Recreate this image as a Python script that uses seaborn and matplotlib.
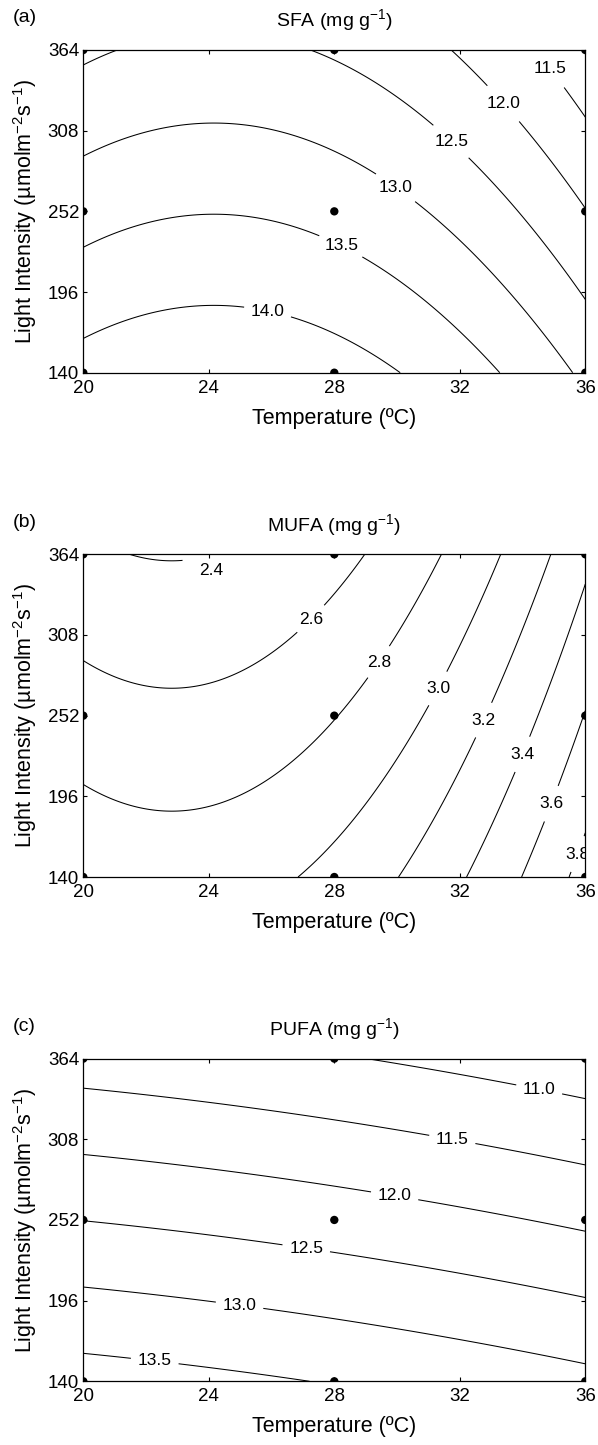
import numpy as np
import matplotlib
matplotlib.use("Agg")
import matplotlib.pyplot as plt
import seaborn as sns
import pandas as pd

sns.set_theme(style="ticks")
plt.rcParams["font.family"] = ["Liberation Sans", "DejaVu Sans"]
plt.rcParams["mathtext.fontset"] = "custom"
plt.rcParams["mathtext.rm"] = "Liberation Sans"
plt.rcParams["mathtext.it"] = "Liberation Sans:italic"
plt.rcParams["mathtext.bf"] = "Liberation Sans:bold"
plt.rcParams["text.color"] = "black"
plt.rcParams["axes.labelcolor"] = "black"
plt.rcParams["axes.titlecolor"] = "black"

# ---------------- data ----------------
temperature_ticks = [20, 24, 28, 32, 36]
light_ticks = [140, 196, 252, 308, 364]

# design points of the experiment (3 x 3 factorial)
design_temperature = [20, 28, 36, 20, 28, 36, 20, 28, 36]
design_light = [140, 140, 140, 252, 252, 252, 364, 364, 364]

# quadratic response-surface coefficients in coded units
# order: [b0, bT, bL, bTT, bLL, bTL]
sfa_coef = [13.33, -0.643, -0.885, -0.67, 0.0, 0.0]
mufa_coef = [2.793, 0.46, -0.26, 0.355, 0.006, 0.0]
pufa_coef = [12.255, -0.2895, -1.217, -0.0505, 0.0, 0.0]

sfa_levels = [11.5, 12.0, 12.5, 13.0, 13.5, 14.0]
mufa_levels = [2.4, 2.6, 2.8, 3.0, 3.2, 3.4, 3.6, 3.8]
pufa_levels = [11.0, 11.5, 12.0, 12.5, 13.0, 13.5]

# approximate contour-label positions (temperature, light)
sfa_label_pos = [(34.76, 349), (33.5, 329), (31.7, 300), (30.2, 276), (28.35, 234), (25.9, 185)]
mufa_label_pos = [(23.8, 358), (27.4, 316), (29.57, 287), (31.46, 269), (32.8, 248.5),
                  (33.72, 227.6), (34.7, 192.7), (35.37, 159)]
pufa_label_pos = [(34.51, 340.4), (31.77, 309), (29.94, 271), (27.13, 236), (25.0, 196), (22.3, 158.5)]

titles = ["SFA", "MUFA", "PUFA"]
panel_tags = ["(a)", "(b)", "(c)"]

# ---------------- figure ----------------
W, H = 598, 1445
fig = plt.figure(figsize=(W / 100, H / 100), dpi=100)

ax_left = 83.3 / W
ax_width = 502 / W
ax_tops = [50, 554.3, 1058.6]
ax_h_px = 322.7

T = np.linspace(20, 36, 301)
L = np.linspace(140, 364, 301)
TT, LL = np.meshgrid(T, L)
X = (TT - 28) / 8
Y = (LL - 252) / 112

panels = [
    (sfa_coef, sfa_levels, sfa_label_pos),
    (mufa_coef, mufa_levels, mufa_label_pos),
    (pufa_coef, pufa_levels, pufa_label_pos),
]

design_df = pd.DataFrame({"Temperature": design_temperature, "Light": design_light})

for i, (coef, levels, lpos) in enumerate(panels):
    top = ax_tops[i]
    ax = fig.add_axes([ax_left, 1 - (top + ax_h_px) / H, ax_width, ax_h_px / H])
    b0, b1, b2, b11, b22, b12 = coef
    Z = b0 + b1 * X + b2 * Y + b11 * X ** 2 + b22 * Y ** 2 + b12 * X * Y
    cs = ax.contour(TT, LL, Z, levels=levels, colors="black", linewidths=0.75)
    texts = ax.clabel(cs, levels, fmt="%.1f", fontsize=12.5, inline=True,
                      inline_spacing=7, manual=lpos)
    for t in texts:
        t.set_rotation(0)
        t.set_color("black")
        if t.get_text() == "2.4":
            x0, y0 = t.get_position()
            t.set_position((x0 + 0.3, y0 - 9))
    sns.scatterplot(data=design_df, x="Temperature", y="Light", ax=ax,
                    color="black", s=36, edgecolor="none", zorder=5, legend=False)

    ax.set_xlim(20, 36)
    ax.set_ylim(140, 364)
    ax.set_xticks(temperature_ticks)
    ax.set_yticks(light_ticks)
    ax.tick_params(direction="in", top=True, right=True, length=3, width=0.8,
                   labelsize=13.5, colors="black")
    ax.tick_params(axis="x", pad=5)
    ax.tick_params(axis="y", pad=3)
    for sp in ax.spines.values():
        sp.set_visible(True)
        sp.set_linewidth(0.9)
        sp.set_color("black")
    ax.set_xlabel("Temperature (ºC)", fontsize=15.5, labelpad=8)
    ax.set_ylabel(r"Light Intensity (µmolm$\mathregular{^{-2}}$s$\mathregular{^{-1}}$)",
                  fontsize=15.5, labelpad=6)
    ax.set_title(titles[i] + r" (mg g$\mathregular{^{-1}}$)", fontsize=14, pad=17,
                 color="black")
    fig.text(13 / W, 1 - (top - 32) / H, panel_tags[i], fontsize=14,
             ha="left", va="center", color="black")

fig.savefig("out.png", dpi=100)
